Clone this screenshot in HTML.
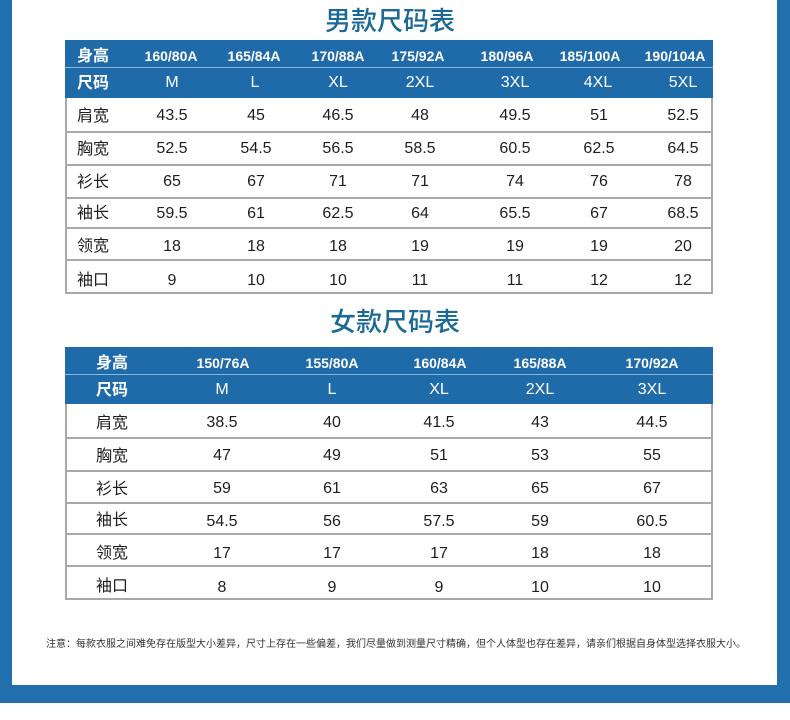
<!DOCTYPE html>
<html><head><meta charset="utf-8">
<style>
html,body{margin:0;padding:0;}
body{width:790px;height:720px;position:relative;background:#fff;overflow:hidden;font-family:"Liberation Sans","Noto Sans CJK SC",sans-serif;}
.a{position:absolute;}
.t{position:absolute;transform:translate(-50%,calc(-50% + 1px));line-height:1;white-space:nowrap;}
.h1{color:#fff;font-weight:bold;font-size:14px;}
.h2{color:#fff;font-size:16px;}
.d{color:#1e1e1e;font-size:16px;}
.lb{font-family:"Noto Sans CJK SC",sans-serif;font-size:16px;transform:translate(-50%,calc(-50% - 1px));}
.hl{font-family:"Noto Sans CJK SC",sans-serif;font-size:16px;font-weight:bold;color:#fff;transform:translate(-50%,calc(-50% - 1px));}
.title{font-family:"Noto Sans CJK SC",sans-serif;font-size:26px;font-weight:500;color:#1b6a95;transform:translate(-50%,calc(-50% - 1px));}
.ln{position:absolute;height:2px;background:#a8a8a8;}
</style></head><body>
<div class="a" style="left:0;top:0;width:12px;height:703px;background:#2170ad"></div>
<div class="a" style="left:777px;top:0;width:13px;height:703px;background:#2170ad"></div>
<div class="a" style="left:0;top:685px;width:790px;height:18px;background:#2170ad"></div>

<!-- Men's -->
<div class="t title" style="left:390px;top:21px">男款尺码表</div>
<div class="a" style="left:65px;top:40px;width:648px;height:58px;background:#1f6aa9"></div>
<div class="a" style="left:65px;top:67px;width:648px;height:1px;background:#8cb6da"></div>
<div class="a" style="left:65px;top:98px;width:2px;height:196px;background:#a8a8a8"></div>
<div class="a" style="left:711px;top:98px;width:2px;height:196px;background:#a8a8a8"></div>
<div class="ln" style="left:65px;width:648px;top:131px"></div>
<div class="ln" style="left:65px;width:648px;top:164px"></div>
<div class="ln" style="left:65px;width:648px;top:197px"></div>
<div class="ln" style="left:65px;width:648px;top:227px"></div>
<div class="ln" style="left:65px;width:648px;top:259px"></div>
<div class="ln" style="left:65px;width:648px;top:292px"></div>

<div class="t hl" style="left:93px;top:55px">身高</div>
<div class="t h1" style="left:171px;top:55px">160/80A</div>
<div class="t h1" style="left:254px;top:55px">165/84A</div>
<div class="t h1" style="left:338px;top:55px">170/88A</div>
<div class="t h1" style="left:418px;top:55px">175/92A</div>
<div class="t h1" style="left:507px;top:55px">180/96A</div>
<div class="t h1" style="left:590px;top:55px">185/100A</div>
<div class="t h1" style="left:675px;top:55px">190/104A</div>

<div class="t hl" style="left:93px;top:82px">尺码</div>
<div class="t h2" style="left:172px;top:82px">M</div>
<div class="t h2" style="left:255px;top:82px">L</div>
<div class="t h2" style="left:338px;top:82px">XL</div>
<div class="t h2" style="left:420px;top:82px">2XL</div>
<div class="t h2" style="left:515px;top:82px">3XL</div>
<div class="t h2" style="left:598px;top:82px">4XL</div>
<div class="t h2" style="left:683px;top:82px">5XL</div>

<div class="t d lb" style="left:93px;top:115px">肩宽</div>
<div class="t d" style="left:172px;top:115px">43.5</div>
<div class="t d" style="left:256px;top:115px">45</div>
<div class="t d" style="left:338px;top:115px">46.5</div>
<div class="t d" style="left:420px;top:115px">48</div>
<div class="t d" style="left:515px;top:115px">49.5</div>
<div class="t d" style="left:599px;top:115px">51</div>
<div class="t d" style="left:683px;top:115px">52.5</div>

<div class="t d lb" style="left:93px;top:148px">胸宽</div>
<div class="t d" style="left:172px;top:148px">52.5</div>
<div class="t d" style="left:256px;top:148px">54.5</div>
<div class="t d" style="left:338px;top:148px">56.5</div>
<div class="t d" style="left:420px;top:148px">58.5</div>
<div class="t d" style="left:515px;top:148px">60.5</div>
<div class="t d" style="left:599px;top:148px">62.5</div>
<div class="t d" style="left:683px;top:148px">64.5</div>

<div class="t d lb" style="left:93px;top:181px">衫长</div>
<div class="t d" style="left:172px;top:181px">65</div>
<div class="t d" style="left:256px;top:181px">67</div>
<div class="t d" style="left:338px;top:181px">71</div>
<div class="t d" style="left:420px;top:181px">71</div>
<div class="t d" style="left:515px;top:181px">74</div>
<div class="t d" style="left:599px;top:181px">76</div>
<div class="t d" style="left:683px;top:181px">78</div>

<div class="t d lb" style="left:93px;top:212px">袖长</div>
<div class="t d" style="left:172px;top:213px">59.5</div>
<div class="t d" style="left:256px;top:213px">61</div>
<div class="t d" style="left:338px;top:213px">62.5</div>
<div class="t d" style="left:420px;top:213px">64</div>
<div class="t d" style="left:515px;top:213px">65.5</div>
<div class="t d" style="left:599px;top:213px">67</div>
<div class="t d" style="left:683px;top:213px">68.5</div>

<div class="t d lb" style="left:93px;top:245px">领宽</div>
<div class="t d" style="left:172px;top:246px">18</div>
<div class="t d" style="left:256px;top:246px">18</div>
<div class="t d" style="left:338px;top:246px">18</div>
<div class="t d" style="left:420px;top:246px">19</div>
<div class="t d" style="left:515px;top:246px">19</div>
<div class="t d" style="left:599px;top:246px">19</div>
<div class="t d" style="left:683px;top:246px">20</div>

<div class="t d lb" style="left:93px;top:279px">袖口</div>
<div class="t d" style="left:172px;top:280px">9</div>
<div class="t d" style="left:256px;top:280px">10</div>
<div class="t d" style="left:338px;top:280px">10</div>
<div class="t d" style="left:420px;top:280px">11</div>
<div class="t d" style="left:515px;top:280px">11</div>
<div class="t d" style="left:599px;top:280px">12</div>
<div class="t d" style="left:683px;top:280px">12</div>

<!-- Women's -->
<div class="t title" style="left:395px;top:322px">女款尺码表</div>
<div class="a" style="left:65px;top:347px;width:648px;height:57px;background:#1f6aa9"></div>
<div class="a" style="left:65px;top:374px;width:648px;height:1px;background:#8cb6da"></div>
<div class="a" style="left:65px;top:404px;width:2px;height:196px;background:#a8a8a8"></div>
<div class="a" style="left:711px;top:404px;width:2px;height:196px;background:#a8a8a8"></div>
<div class="ln" style="left:65px;width:648px;top:437px"></div>
<div class="ln" style="left:65px;width:648px;top:470px"></div>
<div class="ln" style="left:65px;width:648px;top:502px"></div>
<div class="ln" style="left:65px;width:648px;top:533px"></div>
<div class="ln" style="left:65px;width:648px;top:565px"></div>
<div class="ln" style="left:65px;width:648px;top:598px"></div>

<div class="t hl" style="left:112px;top:362px">身高</div>
<div class="t h1" style="left:223px;top:362px">150/76A</div>
<div class="t h1" style="left:332px;top:362px">155/80A</div>
<div class="t h1" style="left:440px;top:362px">160/84A</div>
<div class="t h1" style="left:540px;top:362px">165/88A</div>
<div class="t h1" style="left:652px;top:362px">170/92A</div>

<div class="t hl" style="left:112px;top:389px">尺码</div>
<div class="t h2" style="left:222px;top:389px">M</div>
<div class="t h2" style="left:332px;top:389px">L</div>
<div class="t h2" style="left:439px;top:389px">XL</div>
<div class="t h2" style="left:540px;top:389px">2XL</div>
<div class="t h2" style="left:652px;top:389px">3XL</div>

<div class="t d lb" style="left:112px;top:422px">肩宽</div>
<div class="t d" style="left:222px;top:422px">38.5</div>
<div class="t d" style="left:332px;top:422px">40</div>
<div class="t d" style="left:439px;top:422px">41.5</div>
<div class="t d" style="left:540px;top:422px">43</div>
<div class="t d" style="left:652px;top:422px">44.5</div>

<div class="t d lb" style="left:112px;top:455px">胸宽</div>
<div class="t d" style="left:222px;top:455px">47</div>
<div class="t d" style="left:332px;top:455px">49</div>
<div class="t d" style="left:439px;top:455px">51</div>
<div class="t d" style="left:540px;top:455px">53</div>
<div class="t d" style="left:652px;top:455px">55</div>

<div class="t d lb" style="left:112px;top:488px">衫长</div>
<div class="t d" style="left:222px;top:488px">59</div>
<div class="t d" style="left:332px;top:488px">61</div>
<div class="t d" style="left:439px;top:488px">63</div>
<div class="t d" style="left:540px;top:488px">65</div>
<div class="t d" style="left:652px;top:488px">67</div>

<div class="t d lb" style="left:112px;top:519px">袖长</div>
<div class="t d" style="left:222px;top:521px">54.5</div>
<div class="t d" style="left:332px;top:521px">56</div>
<div class="t d" style="left:439px;top:521px">57.5</div>
<div class="t d" style="left:540px;top:521px">59</div>
<div class="t d" style="left:652px;top:521px">60.5</div>

<div class="t d lb" style="left:112px;top:552px">领宽</div>
<div class="t d" style="left:222px;top:553px">17</div>
<div class="t d" style="left:332px;top:553px">17</div>
<div class="t d" style="left:439px;top:553px">17</div>
<div class="t d" style="left:540px;top:553px">18</div>
<div class="t d" style="left:652px;top:553px">18</div>

<div class="t d lb" style="left:112px;top:585px">袖口</div>
<div class="t d" style="left:222px;top:587px">8</div>
<div class="t d" style="left:332px;top:587px">9</div>
<div class="t d" style="left:439px;top:587px">9</div>
<div class="t d" style="left:540px;top:587px">10</div>
<div class="t d" style="left:652px;top:587px">10</div>

<div class="a" style="left:46px;top:636px;font-family:'Noto Sans CJK SC',sans-serif;font-size:10px;line-height:14px;color:#333;white-space:nowrap">注意：每款衣服之间难免存在版型大小差异，尺寸上存在一些偏差，我们尽量做到测量尺寸精确，但个人体型也存在差异，请亲们根据自身体型选择衣服大小。</div>
</body></html>
